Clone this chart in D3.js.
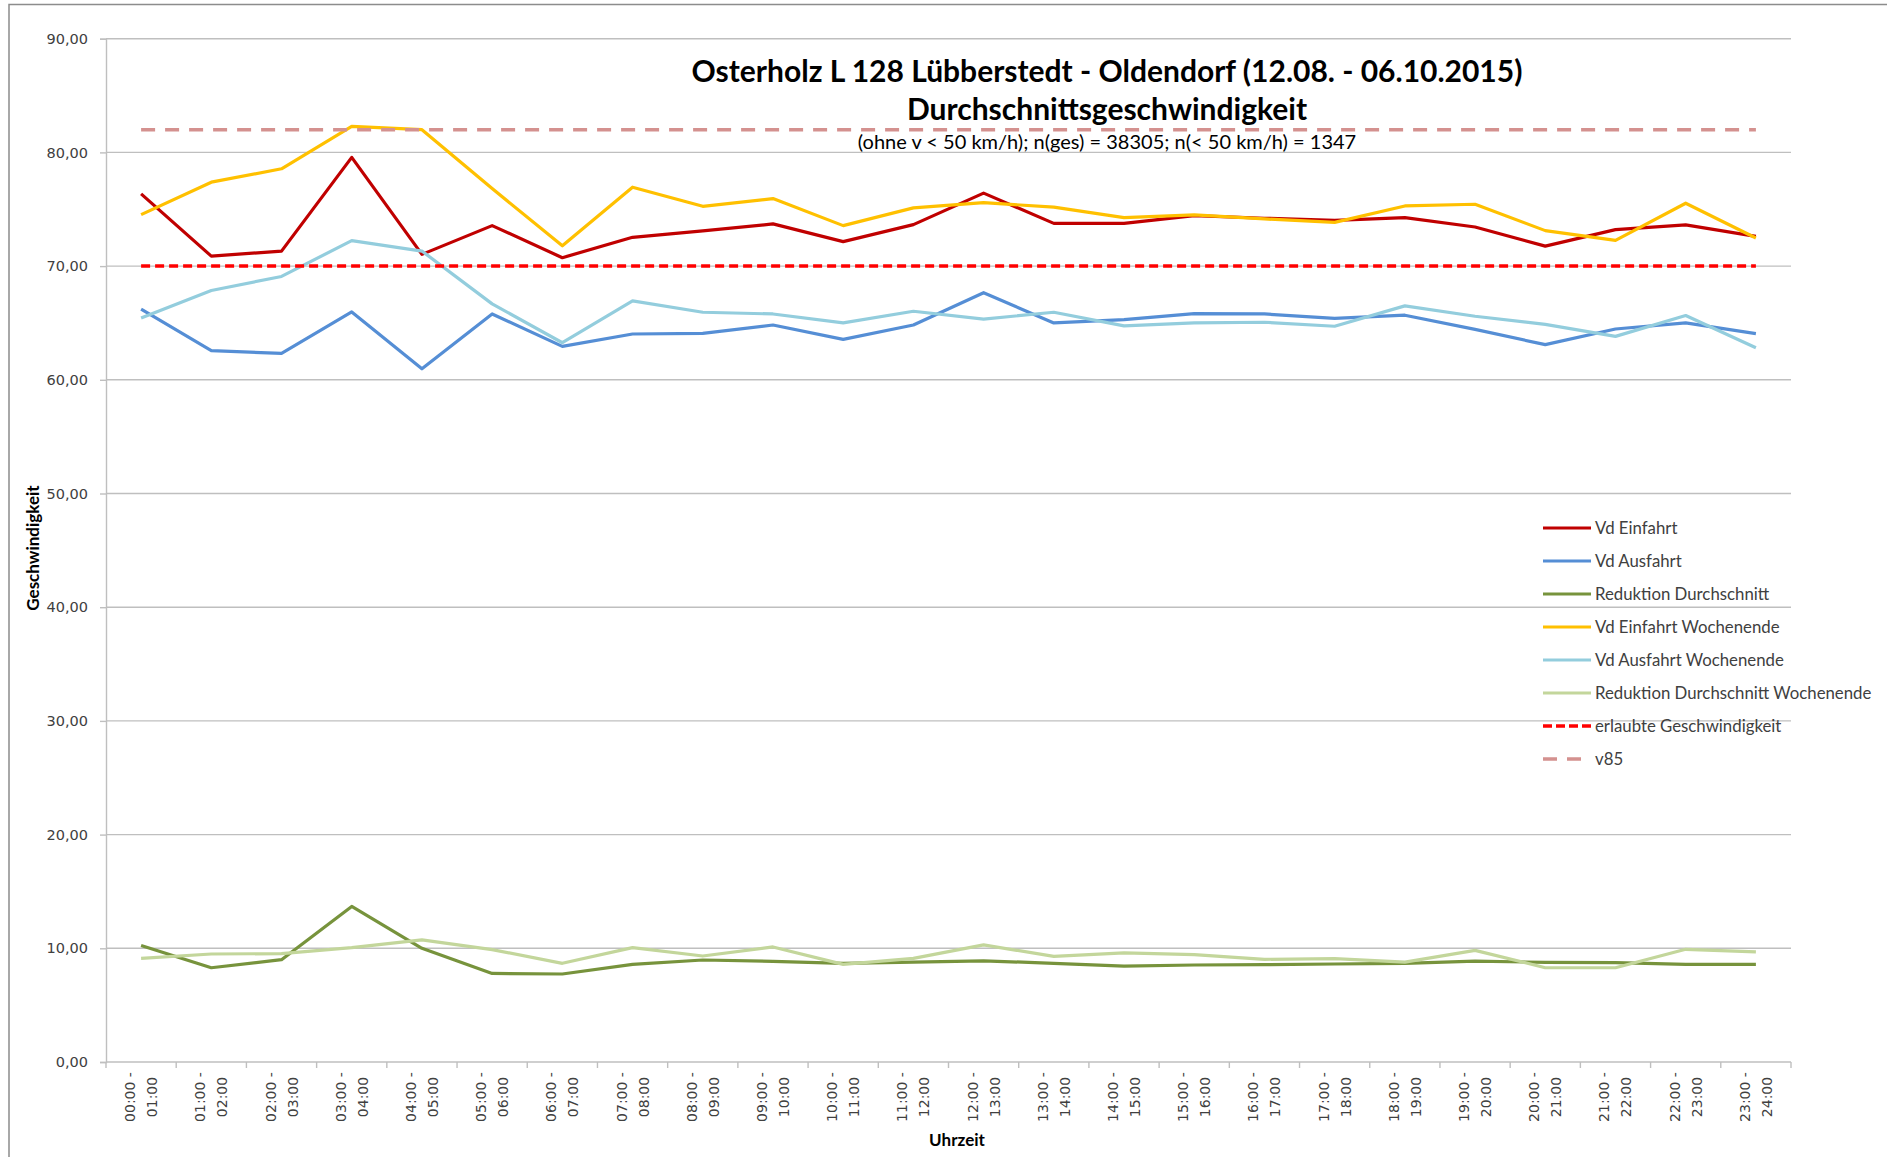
<!DOCTYPE html>
<html>
<head>
<meta charset="utf-8">
<script src="https://cdn.jsdelivr.net/npm/d3@7"></script>
<style>
  html, body { margin: 0; padding: 0; background: #ffffff; }
  svg { display: block; }
</style>
</head>
<body>
<svg id="chart" width="1887" height="1157"></svg>
<script>
// Hour slots
const categories = [
  "00:00 - 01:00", "01:00 - 02:00", "02:00 - 03:00", "03:00 - 04:00",
  "04:00 - 05:00", "05:00 - 06:00", "06:00 - 07:00", "07:00 - 08:00",
  "08:00 - 09:00", "09:00 - 10:00", "10:00 - 11:00", "11:00 - 12:00",
  "12:00 - 13:00", "13:00 - 14:00", "14:00 - 15:00", "15:00 - 16:00",
  "16:00 - 17:00", "17:00 - 18:00", "18:00 - 19:00", "19:00 - 20:00",
  "20:00 - 21:00", "21:00 - 22:00", "22:00 - 23:00", "23:00 - 24:00"
];

// Average speeds per hour (km/h)
const vdEinfahrt = [76.35, 70.88, 71.32, 79.56, 71.03, 73.56, 70.74, 72.53, 73.09, 73.71, 72.15, 73.65,
                    76.42, 73.76, 73.76, 74.44, 74.21, 74.03, 74.26, 73.44, 71.76, 73.21, 73.62, 72.62];
const vdAusfahrt = [66.21, 62.56, 62.32, 65.97, 60.97, 65.79, 62.94, 64.03, 64.09, 64.82, 63.56, 64.82,
                    67.66, 65.00, 65.29, 65.82, 65.79, 65.41, 65.68, 64.44, 63.09, 64.47, 65.00, 64.06];
const reduktion = [10.24, 8.29, 9.00, 13.68, 10.00, 7.79, 7.74, 8.59, 8.97, 8.85, 8.68, 8.79,
                   8.90, 8.68, 8.44, 8.53, 8.56, 8.62, 8.68, 8.88, 8.76, 8.74, 8.59, 8.59];
const vdEinfahrtWE = [74.53, 77.38, 78.56, 82.29, 82.00, 76.82, 71.79, 76.94, 75.26, 75.94, 73.56, 75.12,
                      75.58, 75.18, 74.26, 74.50, 74.15, 73.85, 75.29, 75.44, 73.12, 72.26, 75.53, 72.47];
const vdAusfahrtWE = [65.44, 67.85, 69.09, 72.24, 71.32, 66.68, 63.26, 66.94, 65.94, 65.79, 65.00, 66.03,
                      65.34, 65.94, 64.74, 65.00, 65.06, 64.71, 66.50, 65.59, 64.88, 63.82, 65.65, 62.82];
const reduktionWE = [9.12, 9.50, 9.53, 10.06, 10.74, 9.88, 8.68, 10.06, 9.32, 10.12, 8.59, 9.12,
                     10.30, 9.29, 9.59, 9.44, 9.03, 9.09, 8.79, 9.82, 8.29, 8.29, 9.91, 9.68];

// Reference speeds (km/h)
const erlaubteGeschwindigkeit = 70;
const v85Wert = 82;

const yTicks = [0, 10, 20, 30, 40, 50, 60, 70, 80, 90];

const seriesNames = [
  "Vd Einfahrt", "Vd Ausfahrt", "Reduktion Durchschnitt",
  "Vd Einfahrt Wochenende", "Vd Ausfahrt Wochenende", "Reduktion Durchschnitt Wochenende"
];
const seriesValues = [vdEinfahrt, vdAusfahrt, reduktion, vdEinfahrtWE, vdAusfahrtWE, reduktionWE];
const seriesColors = ["#c00000", "#558ed5", "#77933c", "#ffc000", "#93cddd", "#c3d69b"];

const titleLines = [
  "Osterholz L 128 Lübberstedt - Oldendorf (12.08. - 06.10.2015)",
  "Durchschnittsgeschwindigkeit"
];
const subtitle = "(ohne v < 50 km/h); n(ges) = 38305; n(< 50 km/h) = 1347";

const svg = d3.select("#chart");
const plot = { left: 106, right: 1791, top: 38.7, bottom: 1062 };
const gridColor = "#bfbfbf";

// outer chart frame
svg.append("rect")
  .attr("x", 9).attr("y", 4.5).attr("width", 1950).attr("height", 1250)
  .attr("fill", "#ffffff").attr("stroke", "#8c8c8c").attr("stroke-width", 1.5);

const x = d3.scaleBand().domain(categories).range([plot.left, plot.right]);
const y = d3.scaleLinear().domain([0, 90]).range([plot.bottom, plot.top]);
const cx = d => x(d) + x.bandwidth() / 2;

// horizontal gridlines
svg.append("g").selectAll("line").data(yTicks.filter(t => t > 0)).join("line")
  .attr("x1", plot.left).attr("x2", plot.right)
  .attr("y1", d => y(d)).attr("y2", d => y(d))
  .attr("stroke", gridColor).attr("stroke-width", 1.4);

// y axis
const yAxis = svg.append("g").attr("transform", `translate(${plot.left},0)`)
  .call(d3.axisLeft(y).tickValues(yTicks).tickSize(6).tickPadding(12)
    .tickFormat(d => d3.format(".2f")(d).replace(".", ",")));
yAxis.select(".domain").attr("stroke", gridColor).attr("stroke-width", 1.4);
yAxis.selectAll(".tick line").attr("stroke", gridColor).attr("stroke-width", 1.4);
yAxis.selectAll(".tick text")
  .attr("font-family", "'DejaVu Sans', sans-serif").attr("font-size", 14.5).attr("fill", "#404040");

// x axis: ticks on the band boundaries
const xAxisG = svg.append("g");
xAxisG.append("line")
  .attr("x1", plot.left).attr("x2", plot.right)
  .attr("y1", plot.bottom).attr("y2", plot.bottom)
  .attr("stroke", gridColor).attr("stroke-width", 1.4);
const boundaries = categories.map(c => x(c)).concat([plot.right]);
xAxisG.selectAll("line.tk").data(boundaries).join("line").attr("class", "tk")
  .attr("x1", d => d).attr("x2", d => d)
  .attr("y1", plot.bottom).attr("y2", plot.bottom + 6)
  .attr("stroke", gridColor).attr("stroke-width", 1.4);

const xl = xAxisG.selectAll("g.lbl").data(categories).join("g").attr("class", "lbl")
  .attr("transform", d => `translate(${cx(d)},${plot.bottom + 35}) rotate(-90)`);
xl.each(function (d) {
  const parts = d.split(" - ");
  const t = d3.select(this).append("text")
    .attr("text-anchor", "middle")
    .attr("font-family", "'DejaVu Sans', sans-serif").attr("font-size", 14)
    .attr("fill", "#404040");
  t.append("tspan").attr("x", 0).attr("y", -6).text(parts[0] + " -");
  t.append("tspan").attr("x", 0).attr("y", 16).text(parts[1]);
});

// data lines
const line = d3.line().x((d, i) => cx(categories[i])).y(d => y(d));
seriesValues.forEach((vals, i) => {
  svg.append("path").datum(vals)
    .attr("d", line)
    .attr("fill", "none")
    .attr("stroke", seriesColors[i])
    .attr("stroke-width", 3.2)
    .attr("stroke-linejoin", "round");
});

// reference lines
const x0 = cx(categories[0]), x1 = cx(categories[categories.length - 1]);
svg.append("line")
  .attr("x1", x0).attr("x2", x1)
  .attr("y1", y(erlaubteGeschwindigkeit)).attr("y2", y(erlaubteGeschwindigkeit))
  .attr("stroke", "#ff0000").attr("stroke-width", 3.5).attr("stroke-dasharray", "9,5");
svg.append("line")
  .attr("x1", x0).attr("x2", x1)
  .attr("y1", y(v85Wert)).attr("y2", y(v85Wert))
  .attr("stroke", "#d4918f").attr("stroke-width", 3.5).attr("stroke-dasharray", "14,10");

// titles
const titleG = svg.append("g").attr("font-family", "Lato, sans-serif").attr("text-anchor", "middle");
titleG.append("text").attr("x", 1107).attr("y", 82)
  .attr("font-size", 30).attr("font-weight", "bold").attr("fill", "#000").text(titleLines[0]);
titleG.append("text").attr("x", 1107).attr("y", 120)
  .attr("font-size", 30).attr("font-weight", "bold").attr("fill", "#000").text(titleLines[1]);
titleG.append("text").attr("x", 1107).attr("y", 149)
  .attr("font-size", 20).attr("fill", "#000").text(subtitle);

// axis titles
svg.append("text")
  .attr("transform", "translate(39,548) rotate(-90)")
  .attr("text-anchor", "middle").attr("font-family", "Lato, sans-serif")
  .attr("font-size", 17).attr("font-weight", "bold").attr("fill", "#000")
  .text("Geschwindigkeit");
svg.append("text")
  .attr("x", 957).attr("y", 1146)
  .attr("text-anchor", "middle").attr("font-family", "Lato, sans-serif")
  .attr("font-size", 17).attr("font-weight", "bold").attr("fill", "#000")
  .text("Uhrzeit");

// legend
const legendItems = seriesNames.map((n, i) => ({ name: n, color: seriesColors[i], dash: null, w: 3.2 }))
  .concat([
    { name: "erlaubte Geschwindigkeit", color: "#ff0000", dash: "9,4", w: 3.5 },
    { name: "v85", color: "#d4918f", dash: "14,10", w: 3.5 }
  ]);
const lg = svg.append("g").attr("transform", "translate(1543,528)");
const rows = lg.selectAll("g").data(legendItems).join("g")
  .attr("transform", (d, i) => `translate(0,${i * 33})`);
rows.append("line")
  .attr("x1", 0).attr("x2", 48).attr("y1", 0).attr("y2", 0)
  .attr("stroke", d => d.color).attr("stroke-width", d => d.w)
  .attr("stroke-dasharray", d => d.dash);
rows.append("text")
  .attr("x", 52).attr("y", 0).attr("dy", "0.35em")
  .attr("font-family", "Lato, sans-serif").attr("font-size", 16.8).attr("fill", "#404040")
  .text(d => d.name);
</script>
</body>
</html>
